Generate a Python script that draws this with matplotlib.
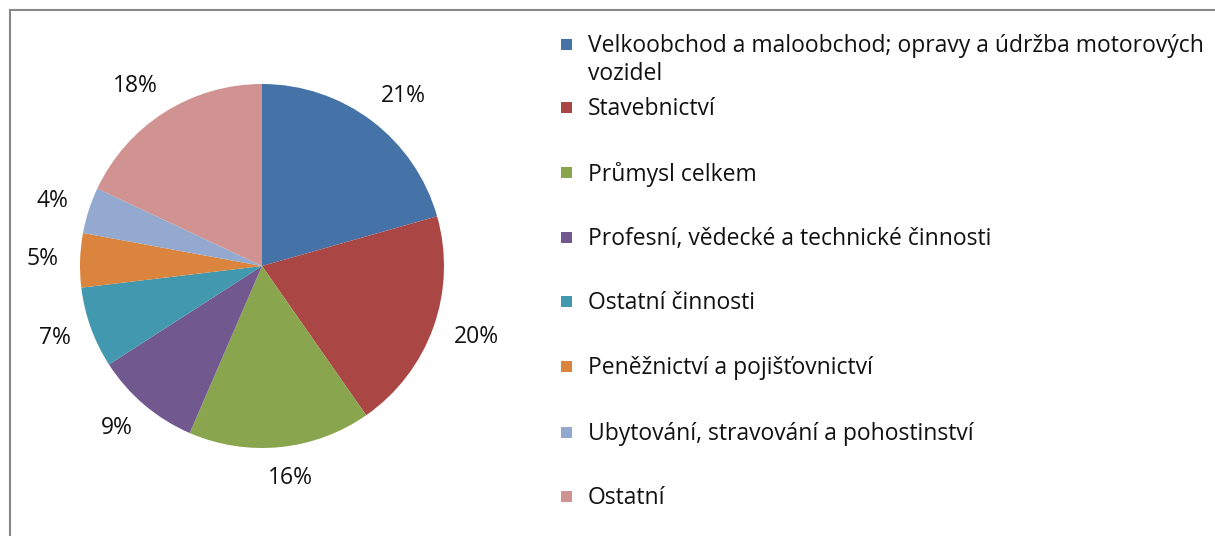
import numpy as np
import matplotlib.pyplot as plt
from matplotlib.lines import Line2D
from matplotlib.patches import Rectangle

plt.rcParams['font.family'] = ['Open Sans', 'DejaVu Sans']

# shares of each sector
categories = [
    "Velkoobchod a maloobchod; opravy a údržba motorových\nvozidel",
    "Stavebnictví",
    "Průmysl celkem",
    "Profesní, vědecké a technické činnosti",
    "Ostatní činnosti",
    "Peněžnictví a pojišťovnictví",
    "Ubytování, stravování a pohostinství",
    "Ostatní",
]
shares = [20.6, 19.7, 16.2, 9.4, 7.2, 4.8, 4.1, 18.0]
colors = ["#4572A7", "#AA4643", "#89A54E", "#71588F",
          "#4198AF", "#DB843D", "#93A9CF", "#D19392"]

W, H = 1215, 536
FS = 16.5
fig = plt.figure(figsize=(W / 100, H / 100), dpi=100)

# pie axes, centre at (262, 266) px, radius 182 px
R = 182
half = 250
ax = fig.add_axes([(262 - half) / W, (H - 266 - half) / H, 2 * half / W, 2 * half / H])
wedges, texts, autotexts = ax.pie(
    shares, colors=colors, startangle=90, counterclock=False,
    autopct="%.0f%%", pctdistance=1.2, radius=1,
    wedgeprops=dict(linewidth=0),
    textprops=dict(fontsize=FS, color="#111111"),
)
ax.set_xlim(-half / R, half / R)
ax.set_ylim(-half / R, half / R)
ax.set_aspect("equal")
ax.axis("off")

# push labels outward like Excel: box edge a fixed gap from the rim
fig.canvas.draw()
renderer = fig.canvas.get_renderer()
gap = 1.11
for w, t in zip(wedges, autotexts):
    th = np.deg2rad((w.theta1 + w.theta2) / 2)
    bb = t.get_window_extent(renderer)
    c, s = np.cos(th), np.sin(th)
    x = gap * c + (bb.width / 2 / R) * np.sign(c) * np.sqrt(abs(c)) * 1.1
    y = gap * s + (bb.height / 2.2 / R) * s
    t.set_position((x, y))
    t.set_ha("center")
    t.set_va("center")

# chart frame (only top and left edges visible in the crop)
def px(x, y):
    return x / W, 1 - y / H

fig.add_artist(Line2D([px(10, 0)[0], 1.0], [px(0, 10)[1]] * 2,
                      color="#878787", lw=1.5, transform=fig.transFigure))
fig.add_artist(Line2D([px(10, 0)[0]] * 2, [0, px(0, 10)[1]],
                      color="#878787", lw=1.5, transform=fig.transFigure))

# legend drawn by hand to follow the original spacing
row_y = [44, 107, 172, 237, 301, 366, 432, 496]
for label, col, y in zip(categories, colors, row_y):
    x0, y0 = px(561, y + 6)
    fig.add_artist(Rectangle((x0, y0), 11 / W, 11 / H, facecolor=col,
                             edgecolor="none", transform=fig.transFigure))
    tx, ty = px(588, y - 10)
    fig.text(tx, ty, label, fontsize=FS, color="#111111", va="top", ha="left",
             linespacing=1.2)

fig.savefig("out.png", dpi=100)
